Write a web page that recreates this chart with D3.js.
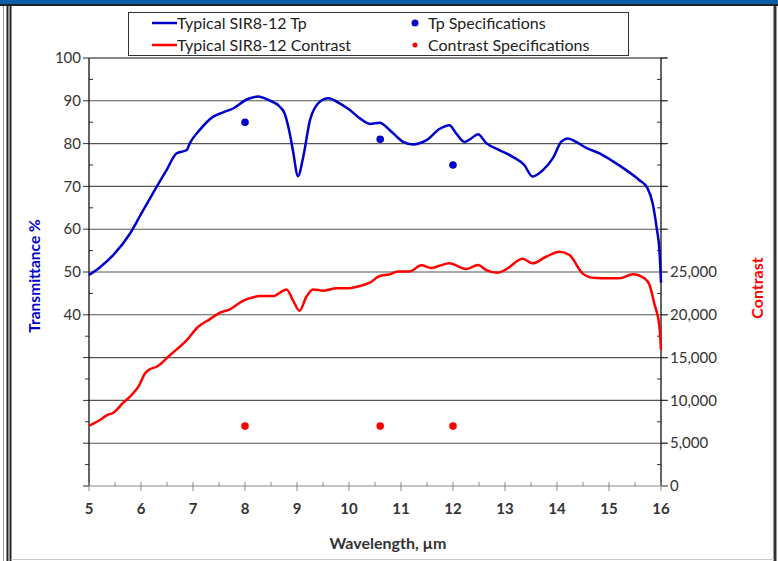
<!DOCTYPE html>
<html>
<head>
<meta charset="utf-8">
<script src="https://cdn.jsdelivr.net/npm/d3@7"></script>
<style>
    body { margin: 0; background: #fff; }
    text { font-family: Lato, "Open Sans", sans-serif; fill: #333; }
</style>
</head>
<body>
<svg id="chart" width="778" height="561"></svg>
<script>
// transmittance curve, wavelength (um) vs %
const tpWave = [5.0, 5.2, 5.47, 5.79, 6.0, 6.3, 6.5, 6.68, 6.88, 6.94, 7.13, 7.39, 7.58, 7.77, 8.03, 8.25, 8.45, 8.67, 8.76, 8.85, 8.92, 9.02, 9.12, 9.25, 9.44, 9.6, 9.82, 10.01, 10.21, 10.4, 10.59, 10.78, 11.04, 11.23, 11.49, 11.74, 11.93, 12.06, 12.22, 12.35, 12.48, 12.64, 12.89, 13.15, 13.37, 13.53, 13.73, 13.92, 14.08, 14.21, 14.37, 14.56, 14.82, 15.07, 15.33, 15.58, 15.74, 15.84, 15.92, 15.97, 16.0];
const tpValue = [49.3, 51, 54, 59, 63.5, 69.9, 74, 77.7, 78.5, 80.1, 83.2, 86.3, 87.3, 88.2, 90.3, 91.0, 90.2, 88.6, 87.1, 83, 78.5, 72.4, 76.9, 85.5, 89.8, 90.6, 89.4, 87.9, 85.9, 84.6, 84.9, 83.2, 80.4, 79.8, 80.8, 83.4, 84.3, 82.4, 80.4, 81.2, 82.2, 80.1, 78.5, 76.9, 75.0, 72.3, 73.8, 76.6, 80.4, 81.2, 80.4, 79.0, 77.7, 75.9, 73.8, 71.5, 69.6, 66.0, 60, 55.1, 47.5];

// contrast curve, wavelength (um) vs contrast
const ctWave = [5.0, 5.21, 5.34, 5.47, 5.66, 5.82, 5.95, 6.08, 6.17, 6.3, 6.56, 6.88, 7.1, 7.32, 7.52, 7.71, 7.96, 8.16, 8.28, 8.54, 8.8, 8.92, 9.05, 9.18, 9.31, 9.5, 9.76, 9.95, 10.21, 10.4, 10.59, 10.78, 10.94, 11.17, 11.39, 11.58, 11.74, 11.93, 12.25, 12.48, 12.64, 12.86, 13.02, 13.34, 13.53, 13.79, 14.05, 14.24, 14.49, 14.69, 15.01, 15.2, 15.46, 15.68, 15.78, 15.87, 15.97, 16.0];
const ctValue = [7040, 7710, 8260, 8560, 9730, 10630, 11600, 13160, 13630, 13930, 15300, 17050, 18600, 19470, 20240, 20640, 21640, 22050, 22190, 22190, 22970, 21720, 20480, 22110, 22970, 22810, 23090, 23090, 23360, 23750, 24530, 24720, 25070, 25070, 25780, 25460, 25730, 26010, 25350, 25810, 25230, 24910, 25310, 26550, 26010, 26780, 27370, 26980, 24840, 24330, 24260, 24260, 24730, 24260, 23480, 21340, 18610, 15890];

// spec points
const tpSpecWave = [8, 10.6, 12];
const tpSpecValue = [85, 81, 75];
const ctSpecWave = [8, 10.6, 12];
const ctSpecValue = [7000, 7000, 7000];

const xTicks = [5, 6, 7, 8, 9, 10, 11, 12, 13, 14, 15, 16];
const leftTicks = [40, 50, 60, 70, 80, 90, 100];
const rightTicks = [0, 5000, 10000, 15000, 20000, 25000];

const svg = d3.select("#chart");
const x0 = 89, x1 = 661, yTop = 58, yBot = 486;

const x = d3.scaleLinear().domain([5, 16]).range([x0, x1]);
const yL = d3.scaleLinear().domain([0, 100]).range([yBot, yTop]);
const yR = d3.scaleLinear().domain([0, 50000]).range([yBot, yTop]);

// page frame
svg.append("rect").attr("x", 0).attr("y", 0).attr("width", 778).attr("height", 4).attr("fill", "#0c5ca6");
svg.append("line").attr("x1", 0).attr("x2", 778).attr("y1", 5).attr("y2", 5).attr("stroke", "#222").attr("stroke-width", 2);
svg.append("line").attr("x1", 3.5).attr("x2", 3.5).attr("y1", 6).attr("y2", 561).attr("stroke", "#999").attr("stroke-width", 1);
svg.append("line").attr("x1", 7.5).attr("x2", 7.5).attr("y1", 6).attr("y2", 561).attr("stroke", "#222").attr("stroke-width", 2);
svg.append("line").attr("x1", 10.5).attr("x2", 10.5).attr("y1", 6).attr("y2", 561).attr("stroke", "#222").attr("stroke-width", 2);
svg.append("line").attr("x1", 775).attr("x2", 775).attr("y1", 6).attr("y2", 561).attr("stroke", "#333").attr("stroke-width", 3);
svg.append("line").attr("x1", 11).attr("x2", 774).attr("y1", 559.5).attr("y2", 559.5).attr("stroke", "#ccc").attr("stroke-width", 1);

// gridlines
const grid = d3.range(10, 101, 10);
svg.append("g").selectAll("line").data(grid).enter().append("line")
    .attr("x1", x0).attr("x2", x1 + 6)
    .attr("y1", d => yL(d)).attr("y2", d => yL(d))
    .attr("stroke", d => d == 100 ? "#111" : "#555").attr("stroke-width", 1.1);

// left axis: major ticks outward, minor inward (upper), outward (lower)
svg.append("g").selectAll("line").data(d3.range(0, 101, 10)).enter().append("line")
    .attr("x1", x0 - 6).attr("x2", x0).attr("y1", d => yL(d)).attr("y2", d => yL(d))
    .attr("stroke", "#333");
svg.append("g").selectAll("line").data(d3.range(5, 100, 10)).enter().append("line")
    .attr("x1", d => d > 40 ? x0 : x0 - 4).attr("x2", d => d > 40 ? x0 + 4 : x0)
    .attr("y1", d => yL(d)).attr("y2", d => yL(d))
    .attr("stroke", "#333");
svg.append("line").attr("x1", x0).attr("x2", x0).attr("y1", yTop).attr("y2", yBot)
    .attr("stroke", "#111").attr("stroke-width", 1.3);
svg.append("g").selectAll("text").data(leftTicks).enter().append("text")
    .attr("x", 81).attr("y", d => yL(d)).attr("dy", "0.35em")
    .attr("text-anchor", "end").style("font-size", "15px").text(d => d);

// right axis
svg.append("g").selectAll("line").data(d3.range(0, 50001, 5000)).enter().append("line")
    .attr("x1", x1).attr("x2", x1 + 7).attr("y1", d => yR(d)).attr("y2", d => yR(d))
    .attr("stroke", "#333");
svg.append("g").selectAll("line").data(d3.range(2500, 50000, 5000)).enter().append("line")
    .attr("x1", x1 - 4).attr("x2", x1).attr("y1", d => yR(d)).attr("y2", d => yR(d))
    .attr("stroke", "#333");
svg.append("line").attr("x1", x1).attr("x2", x1).attr("y1", yTop).attr("y2", yBot)
    .attr("stroke", "#111").attr("stroke-width", 1.3);
svg.append("g").selectAll("text").data(rightTicks).enter().append("text")
    .attr("x", 670).attr("y", d => yR(d)).attr("dy", "0.35em")
    .style("font-size", "15px").text(d => d3.format(",")(d));

// x axis
svg.append("line").attr("x1", x0 - 5).attr("x2", x1 + 5).attr("y1", yBot).attr("y2", yBot)
    .attr("stroke", "#888").attr("stroke-width", 1.2);
svg.append("g").selectAll("line").data(xTicks).enter().append("line")
    .attr("x1", d => x(d)).attr("x2", d => x(d)).attr("y1", yBot - 4).attr("y2", yBot + 5)
    .attr("stroke", "#888");
svg.append("g").selectAll("line").data(d3.range(5.5, 16, 1)).enter().append("line")
    .attr("x1", d => x(d)).attr("x2", d => x(d)).attr("y1", yBot - 4).attr("y2", yBot)
    .attr("stroke", "#888");
svg.append("g").selectAll("text").data(xTicks).enter().append("text")
    .attr("x", d => x(d)).attr("y", 509).attr("dy", "0.35em")
    .attr("text-anchor", "middle").style("font-size", "15px").style("font-weight", "bold")
    .text(d => d);

// axis titles
svg.append("text").attr("x", 388).attr("y", 543).attr("dy", "0.35em")
    .attr("text-anchor", "middle").style("font-size", "16px").style("font-weight", "bold")
    .text("Wavelength, µm");
svg.append("text").attr("transform", "translate(35,276) rotate(-90)").attr("dy", "0.35em")
    .attr("text-anchor", "middle").style("font-size", "15.5px").style("font-weight", "bold")
    .style("fill", "#0000cc").text("Transmittance %");
svg.append("text").attr("transform", "translate(757,288) rotate(-90)").attr("dy", "0.35em")
    .attr("text-anchor", "middle").style("font-size", "16px").style("font-weight", "bold")
    .style("fill", "#ff0000").text("Contrast");

// curves
const tpLine = d3.line().x((d, i) => x(tpWave[i])).y(d => yL(d)).curve(d3.curveMonotoneX);
const ctLine = d3.line().x((d, i) => x(ctWave[i])).y(d => yR(d)).curve(d3.curveMonotoneX);

svg.append("path").datum(ctValue).attr("d", ctLine)
    .attr("fill", "none").attr("stroke", "#ff0000").attr("stroke-width", 2.5);
svg.append("path").datum(tpValue).attr("d", tpLine)
    .attr("fill", "none").attr("stroke", "#0000cc").attr("stroke-width", 2.5);

svg.append("g").selectAll("circle").data(tpSpecValue).enter().append("circle")
    .attr("cx", (d, i) => x(tpSpecWave[i])).attr("cy", d => yL(d)).attr("r", 3.8)
    .attr("fill", "#0000cc");
svg.append("g").selectAll("circle").data(ctSpecValue).enter().append("circle")
    .attr("cx", (d, i) => x(ctSpecWave[i])).attr("cy", d => yR(d)).attr("r", 3.8)
    .attr("fill", "#ff0000");

// legend
const lg = svg.append("g");
lg.append("rect").attr("x", 128.5).attr("y", 12.5).attr("width", 500).attr("height", 43)
    .attr("fill", "#fff").attr("stroke", "#333").attr("stroke-width", 1);
const legendItems = [
    { label: "Typical SIR8-12 Tp", color: "#0000cc", type: "line", lx: 152, ly: 23 },
    { label: "Typical SIR8-12 Contrast", color: "#ff0000", type: "line", lx: 152, ly: 45 },
    { label: "Tp Specifications", color: "#0000cc", type: "dot", lx: 415, ly: 23, r: 3.5 },
    { label: "Contrast Specifications", color: "#ff0000", type: "dot", lx: 415, ly: 45, r: 2.5 }
];
legendItems.forEach(function (it) {
    if (it.type == "line") {
        lg.append("line").attr("x1", it.lx).attr("x2", it.lx + 25).attr("y1", it.ly).attr("y2", it.ly)
            .attr("stroke", it.color).attr("stroke-width", 2.5);
        lg.append("text").attr("x", it.lx + 25).attr("y", it.ly).attr("dy", "0.35em")
            .style("font-size", "16px").style("fill", "#222").text(it.label);
    } else {
        lg.append("circle").attr("cx", it.lx).attr("cy", it.ly).attr("r", it.r).attr("fill", it.color);
        lg.append("text").attr("x", it.lx + 13).attr("y", it.ly).attr("dy", "0.35em")
            .style("font-size", "16px").style("fill", "#222").text(it.label);
    }
});
</script>
</body>
</html>
